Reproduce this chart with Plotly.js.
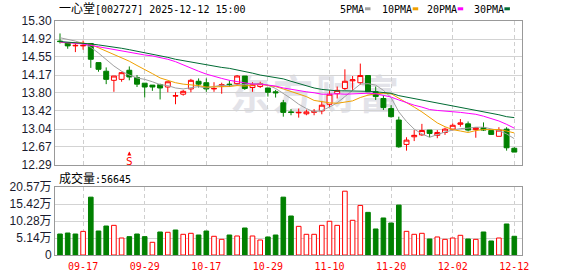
<!DOCTYPE html>
<html><head><meta charset="utf-8">
<script src="https://cdn.plot.ly/plotly-3.0.1.min.js"></script>
<style>
html,body{margin:0;padding:0;background:#fff;}
#wrap{position:relative;width:578px;height:276px;overflow:hidden;}
#wm{position:absolute;left:230px;top:71px;font-family:"Noto Sans CJK SC";font-weight:700;font-size:40px;color:#e3e3e9;letter-spacing:3px;z-index:0;line-height:42px;white-space:nowrap;}
#chart{position:absolute;left:0;top:0;width:578px;height:276px;z-index:1;}
</style></head><body>
<div id="wrap"><div id="wm">东方财富</div><div id="chart"></div></div>
<script>
// ---- data ----
const dates = ["2025-09-12","2025-09-15","2025-09-16","2025-09-17","2025-09-18","2025-09-19","2025-09-22","2025-09-23","2025-09-24","2025-09-25",
"2025-09-26","2025-09-29","2025-09-30","2025-10-09","2025-10-10","2025-10-13","2025-10-14","2025-10-15","2025-10-16","2025-10-17",
"2025-10-20","2025-10-21","2025-10-22","2025-10-23","2025-10-24","2025-10-27","2025-10-28","2025-10-29","2025-10-30","2025-10-31",
"2025-11-03","2025-11-04","2025-11-05","2025-11-06","2025-11-07","2025-11-10","2025-11-11","2025-11-12","2025-11-13","2025-11-14",
"2025-11-17","2025-11-18","2025-11-19","2025-11-20","2025-11-21","2025-11-24","2025-11-25","2025-11-26","2025-11-27","2025-11-28",
"2025-12-01","2025-12-02","2025-12-03","2025-12-04","2025-12-05","2025-12-08","2025-12-09","2025-12-10","2025-12-11","2025-12-12"];

const openP = [14.88,14.84,14.78,14.78,14.83,14.43,14.25,14.06,14.08,14.27,
14.12,14.00,13.96,13.97,13.92,13.73,13.77,13.88,14.04,14.01,
13.88,13.94,13.98,13.99,14.15,13.91,13.93,13.90,13.82,13.59,
13.40,13.38,13.36,13.39,13.42,13.56,13.78,13.89,14.05,14.01,
14.16,13.82,13.68,13.47,13.23,12.72,12.88,12.92,13.02,12.91,
12.97,13.04,13.14,13.15,13.03,13.07,13.01,12.89,13.04,12.64];
const highP = [15.04,14.85,14.83,14.89,14.84,14.43,14.33,14.15,14.24,14.35,
14.17,14.00,13.96,13.99,14.03,13.81,13.86,14.09,14.10,14.10,
14.02,14.01,14.06,14.17,14.15,14.02,14.03,13.90,13.86,13.65,
13.46,13.47,13.45,13.46,13.63,13.85,13.93,14.29,14.15,14.41,
14.16,13.93,13.75,13.54,13.30,12.87,13.02,13.15,13.02,13.02,
13.07,13.16,13.25,13.20,13.07,13.18,13.01,13.08,13.08,12.66];
const lowP = [14.83,14.72,14.65,14.70,14.32,14.24,13.98,13.82,14.03,14.06,
13.92,13.70,13.84,13.66,13.81,13.56,13.74,13.81,13.91,13.82,
13.82,13.78,13.92,13.95,13.86,13.82,13.90,13.72,13.70,13.30,
13.33,13.28,13.33,13.33,13.35,13.50,13.68,13.86,13.86,13.97,
13.82,13.65,13.44,13.28,12.65,12.59,12.79,12.90,12.87,12.85,
12.92,13.01,13.09,12.99,12.86,13.00,12.92,12.89,12.59,12.56];
const closeP = [14.87,14.78,14.79,14.79,14.50,14.29,14.08,14.15,14.22,14.13,
13.98,13.92,13.92,13.90,14.03,13.74,13.83,14.06,13.98,13.88,
13.89,13.97,13.97,14.15,13.89,13.97,13.99,13.81,13.80,13.39,
13.39,13.39,13.40,13.41,13.54,13.77,13.85,14.04,14.07,14.16,
13.82,13.72,13.49,13.30,12.67,12.81,12.91,13.01,12.95,12.97,
13.04,13.12,13.17,13.02,13.07,13.02,12.93,13.02,12.65,12.56];

const ma5 = [14.95,14.92,14.88,14.83,14.75,14.63,14.49,14.36,14.25,14.17,
14.11,14.08,14.03,13.97,13.95,13.90,13.88,13.91,13.93,13.90,
13.93,13.96,13.94,13.97,13.97,13.99,13.99,13.96,13.89,13.79,
13.68,13.56,13.47,13.40,13.43,13.50,13.59,13.72,13.85,13.98,
13.99,13.96,13.85,13.70,13.40,13.20,13.04,12.94,12.87,12.93,
12.98,13.02,13.05,13.06,13.08,13.08,13.04,13.01,12.94,12.84];
const ma10 = [14.85,14.85,14.84,14.84,14.81,14.74,14.66,14.59,14.53,14.46,
14.37,14.29,14.20,14.11,14.06,14.01,13.98,13.97,13.95,13.92,
13.92,13.92,13.93,13.95,13.94,13.96,13.98,13.95,13.93,13.88,
13.83,13.78,13.72,13.64,13.61,13.59,13.58,13.60,13.63,13.70,
13.75,13.78,13.79,13.78,13.69,13.59,13.50,13.40,13.28,13.17,
13.09,13.03,13.00,12.97,13.01,13.03,13.03,13.03,13.00,12.96];
const ma20 = [14.86,14.85,14.84,14.82,14.79,14.76,14.73,14.70,14.67,14.64,
14.62,14.59,14.57,14.54,14.50,14.45,14.38,14.31,14.25,14.19,
14.14,14.10,14.06,14.03,14.00,13.98,13.98,13.96,13.94,13.90,
13.87,13.85,13.82,13.80,13.77,13.77,13.78,13.77,13.78,13.79,
13.79,13.78,13.75,13.71,13.65,13.59,13.54,13.50,13.45,13.43,
13.42,13.40,13.39,13.37,13.35,13.31,13.26,13.21,13.14,13.06];
const ma30 = [14.87,14.86,14.85,14.84,14.82,14.80,14.78,14.76,14.73,14.70,
14.67,14.64,14.61,14.58,14.54,14.50,14.47,14.44,14.41,14.39,
14.36,14.33,14.31,14.28,14.25,14.21,14.17,14.14,14.11,14.09,
14.04,13.99,13.95,13.90,13.87,13.85,13.84,13.84,13.84,13.84,
13.83,13.82,13.81,13.79,13.74,13.71,13.68,13.65,13.61,13.58,
13.56,13.53,13.50,13.46,13.44,13.40,13.37,13.34,13.30,13.28];

// volume in 万
const volume = [6.35,6.65,6.35,7.15,17.5,7.26,8.77,8.97,5.14,5.55,
6.35,5.55,3.84,6.96,6.87,7.56,6.26,6.56,6.05,7.26,
5.66,4.74,6.05,5.75,8.17,5.75,4.54,5.45,6.05,17.5,
11.8,8.67,6.26,6.26,8.97,10.2,8.97,19.3,10.5,15.0,
12.9,7.87,11.2,9.68,15.1,7.16,6.26,6.56,4.84,5.45,
4.74,5.14,5.96,4.84,4.74,6.96,4.24,5.14,9.38,5.6645];
const volUp = [0,0,0,1,0,0,0,1,1,0, 0,0,1,0,1,0,1,1,0,0, 1,1,0,1,0,1,1,0,0,0,
0,1,1,1,1,1,1,1,1,1, 0,0,0,0,0,1,1,1,0,1, 1,1,1,0,1,0,0,1,0,0];

const priceTicks = [15.30,14.92,14.55,14.17,13.80,13.42,13.04,12.67,12.29];
const priceTickText = ["15.30","14.92","14.55","14.17","13.80","13.42","13.04","12.67","12.29"];
const volTicks = [0,5.14,10.28,15.42,20.57];
const volTickText = ["0","5.14万","10.28万","15.42万","20.57万"];
const dateTicks = ["2025-09-17","2025-09-29","2025-10-17","2025-10-29","2025-11-10","2025-11-20","2025-12-02","2025-12-12"];
const dateTickText = ["09-17","09-29","10-17","10-29","11-10","11-20","12-02","12-12"];

const maNames = ["5PMA","10PMA","20PMA","30PMA"];
const maColors = ["#a0a0a0","#f0a000","#ff00ff","#006b33"];
const maSeries = [ma5, ma10, ma20, ma30];
const lastVolume = "56645";
const stockTitle = "一心堂[002727] 2025-12-12 15:00";
const signalIndex = 9;

// ---- layout helpers ----
const W=578,H=276,L=55,R=56,T=21,B=21;
const pw=W-L-R, ph=H-T-B;
const px2x = p => (p-L)/pw;
const py2y = p => (H-B-p)/ph;

const RED="#ff0000", GREEN="#008000";
const mono = "DejaVu Sans Mono, Noto Sans CJK SC";

const traces = [];
traces.push({
  type:"candlestick", x:dates, open:openP, high:highP, low:lowP, close:closeP,
  xaxis:"x", yaxis:"y", whiskerwidth:0,
  increasing:{line:{color:RED,width:1}, fillcolor:"#ffffff"},
  decreasing:{line:{color:GREEN,width:1}, fillcolor:GREEN},
  hoverinfo:"skip", showlegend:false
});
maSeries.forEach((s,k)=>{
  traces.push({type:"scatter",mode:"lines",x:dates,y:s,xaxis:"x",yaxis:"y",
    line:{color:maColors[k],width:1},hoverinfo:"skip",showlegend:false});
});
traces.push({
  type:"bar", x:dates, y:volume, xaxis:"x2", yaxis:"y2", width:0.6,
  marker:{color:volUp.map(u=>u?"#ffffff":GREEN), line:{color:volUp.map(u=>u?RED:GREEN),width:1}},
  hoverinfo:"skip", showlegend:false
});

const xr=[-0.65,60.0];
const xCommon = {type:"category", range:xr, tickmode:"array", tickvals:dateTicks, ticktext:dateTickText,
  showgrid:true, gridcolor:"#cfcfcf", griddash:"4px,3px", gridwidth:1, showline:true, mirror:true,
  linecolor:"#999", linewidth:1, zeroline:false, ticks:"", fixedrange:true};

const annotations = [
  {xref:"paper",yref:"paper",x:px2x(57),y:py2y(9.5),xanchor:"left",yanchor:"middle",showarrow:false,
   text:'<span style="font-size:12px">一心堂</span>'+stockTitle.slice(3), font:{family:mono,size:10,color:"#000"}},
  {xref:"paper",yref:"paper",x:px2x(57),y:py2y(178),xanchor:"left",yanchor:"middle",showarrow:false,
   text:'<span style="font-size:12px">成交量</span>:'+lastVolume, font:{family:mono,size:10,color:"#000"}},
  {xref:"x",yref:"paper",x:dates[signalIndex],y:py2y(151.5),showarrow:true,ax:0,ay:10,
   arrowhead:2,arrowsize:0.8,arrowwidth:1,arrowcolor:RED,standoff:0,startstandoff:0,borderpad:0,
   text:"S", font:{family:mono,size:11,color:RED}}
];
const shapes = [];
const legendX = [338.3, 380, 425, 471.7];
maNames.forEach((n,k)=>{
  annotations.push({xref:"paper",yref:"paper",x:px2x(legendX[k]),y:py2y(9.5),xanchor:"left",yanchor:"middle",
    showarrow:false,text:n,font:{family:mono,size:10,color:"#000"}});
  const x0 = legendX[k] + n.length*6.02 + 2.6;
  shapes.push({type:"rect",xref:"paper",yref:"paper",x0:px2x(x0),x1:px2x(x0+5.5),y0:py2y(10.3),y1:py2y(7.3),
    line:{width:0},fillcolor:maColors[k]});
});

const layout = {
  width:W,height:H,margin:{l:L,r:R,t:T,b:B,pad:0},
  paper_bgcolor:"rgba(0,0,0,0)", plot_bgcolor:"rgba(0,0,0,0)",
  showlegend:false, hovermode:false, boxgap:0.36, boxgroupgap:0,
  font:{family:"Liberation Sans",size:12,color:"#222"},
  xaxis:Object.assign({},xCommon,{anchor:"y",showticklabels:false,domain:[0,1],rangeslider:{visible:false}}),
  xaxis2:Object.assign({},xCommon,{anchor:"y2",showticklabels:true,domain:[0,1],ticklabelstandoff:2,
    tickfont:{family:mono,size:10,color:RED}}),
  yaxis:{domain:[py2y(165),1],range:[12.29,15.30],tickmode:"array",tickvals:priceTicks,ticktext:priceTickText,
    showgrid:true,gridcolor:"#d3d3d3",showline:true,mirror:true,linecolor:"#999",zeroline:false,ticks:"",
    tickfont:{family:"Liberation Sans",size:12,color:"#1a1a2e"},fixedrange:true},
  yaxis2:{domain:[0,py2y(187)],range:[0,20.57],tickmode:"array",tickvals:volTicks,ticktext:volTickText,
    showgrid:true,gridcolor:"#d3d3d3",showline:true,mirror:true,linecolor:"#999",zeroline:false,ticks:"",
    tickfont:{family:"Liberation Sans, Noto Sans CJK SC",size:12,color:"#1a1a2e"},fixedrange:true},
  annotations:annotations, shapes:shapes
};
Plotly.newPlot("chart",traces,layout,{staticPlot:true,displayModeBar:false});
</script>
</body></html>
